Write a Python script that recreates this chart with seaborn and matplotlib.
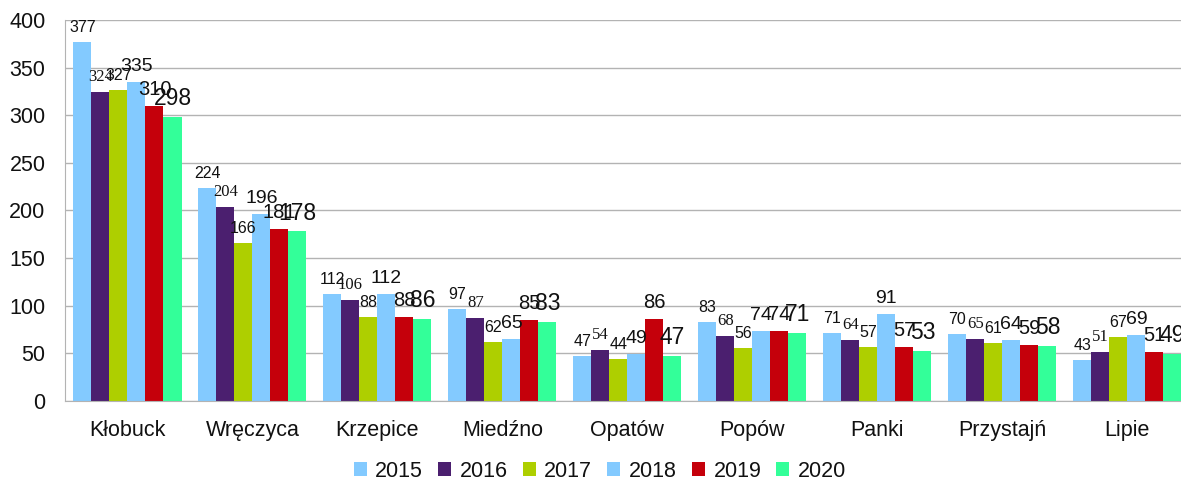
import pandas as pd
import matplotlib
matplotlib.use("Agg")
import matplotlib.pyplot as plt
import seaborn as sns

# Data
gminy = ['Kłobuck', 'Wręczyca', 'Krzepice', 'Miedźno', 'Opatów',
         'Popów', 'Panki', 'Przystajń', 'Lipie']
years = ['2015', '2016', '2017', '2018', '2019', '2020']
v2015 = [377, 224, 112, 97, 47, 83, 71, 70, 43]
v2016 = [324, 204, 106, 87, 54, 68, 64, 65, 51]
v2017 = [327, 166, 88, 62, 44, 56, 57, 61, 67]
v2018 = [335, 196, 112, 65, 49, 74, 91, 64, 69]
v2019 = [310, 181, 88, 85, 86, 74, 57, 59, 51]
v2020 = [298, 178, 86, 83, 47, 71, 53, 58, 49]

colors = ['#83CAFF', '#4B1F6F', '#AECF00', '#83CAFF', '#C5000B', '#33FF99']

rows = []
for y, vals in zip(years, [v2015, v2016, v2017, v2018, v2019, v2020]):
    for g, v in zip(gminy, vals):
        rows.append({'Gmina': g, 'Rok': y, 'Wartosc': v})
df = pd.DataFrame(rows)

sns.set_style("white")
plt.rcParams['font.family'] = ['Liberation Sans', 'DejaVu Sans']

fig = plt.figure(figsize=(11.81, 4.83), dpi=100)
ax = fig.add_axes([0.055, 0.1698, 0.9525, 0.7888])

sns.barplot(data=df, x='Gmina', y='Wartosc', hue='Rok', palette=colors,
            width=0.865, gap=0, saturation=1, linewidth=0, ax=ax, legend=True)

# data labels, each series with its own font like in the original
label_fonts = [(11.5, 'Liberation Sans'), (12, 'Liberation Serif'),
               (11.5, 'Liberation Sans'), (14, 'Liberation Sans'),
               (14.5, 'Liberation Sans'), (16.5, 'Liberation Sans')]
for cont, (fs, fam) in zip(ax.containers, label_fonts):
    ax.bar_label(cont, padding=5, fontsize=fs, family=fam, color='#111111')

ax.set_ylim(0, 400)
ax.set_xlim(-0.5, 8.5)
ax.set_yticks(range(0, 401, 50))
ax.yaxis.grid(True, color='#b3b3b3', linewidth=1)
ax.set_axisbelow(True)
ax.set_xlabel('')
ax.set_ylabel('')

ax.set_xticks([i - 0.5 for i in range(9)], minor=True)
ax.tick_params(axis='x', which='major', length=0, pad=14, labelsize=15.5, labelcolor='#111111')
ax.tick_params(axis='x', which='minor', length=7.5, color='#b3b3b3', width=1)
ax.tick_params(axis='y', length=8.5, color='#b3b3b3', width=1, labelsize=15.5, pad=5.5, labelcolor='#111111')

for s in ['top', 'right']:
    ax.spines[s].set_visible(False)
for s in ['left', 'bottom']:
    ax.spines[s].set_color('#b3b3b3')

handles, labels = ax.get_legend_handles_labels()
ax.get_legend().remove()
fig.legend(handles, labels, loc='center', bbox_to_anchor=(0.508, 0.024),
           ncol=6, frameon=False, fontsize=15.5, handlelength=0.6, handleheight=0.6,
           handletextpad=0.4, columnspacing=0.7, labelcolor='#111111',
           borderpad=0.2)

fig.savefig('out.png', dpi=100)
